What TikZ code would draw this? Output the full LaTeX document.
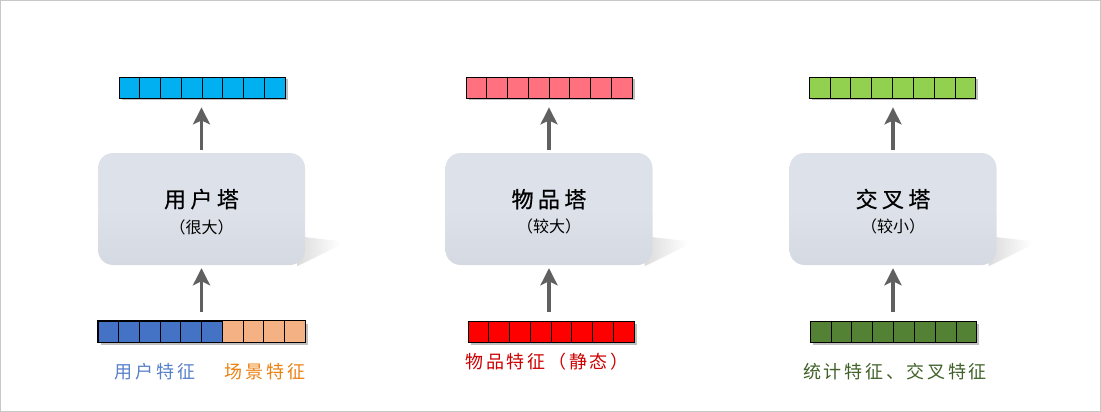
\documentclass[tikz,border=0pt]{standalone}
\usepackage{fontspec}
\setmainfont{Noto Sans CJK SC}
\newfontfamily\spaced[LetterSpace=15]{Noto Sans CJK SC}
\usetikzlibrary{arrows.meta,calc,shadows,fadings,backgrounds}
\tikzset{
  vec/.style={draw=black,line width=0.8pt,minimum width=166pt,minimum height=21pt,inner sep=0pt,
    drop shadow={shadow xshift=2.5pt,shadow yshift=-2.5pt,opacity=.45,fill=black!55}},
  tower/.style={rounded corners=15pt,minimum width=207pt,minimum height=112pt,inner sep=0pt,
    align=center,top color=towertop,bottom color=towerbot,middle color=towertop},
  flow/.style={draw=arrowgray,line width=3.6pt,-{Stealth[length=17pt,width=17pt,inset=4pt]}},
  lbl/.style={font=\fontsize{18}{18}\spaced},
  towershadow/.style={fill=black!40,opacity=.35,path fading=east}
}
\newcommand{\towertext}[2]{\rule{0pt}{24pt}{\fontsize{22}{22}\selectfont\addfontfeature{LetterSpace=20,FakeBold=0.6}#1}\\[9pt]{\fontsize{16}{16}\selectfont #2}}
\begin{document}
\begin{tikzpicture}[x=1pt,y=-1pt]
\definecolor{ucyan}{HTML}{00B0F0}
\definecolor{ublue}{HTML}{4472C4}
\definecolor{uorange}{HTML}{F4B183}
\definecolor{ipink}{HTML}{FF717E}
\definecolor{ired}{HTML}{FF0000}
\definecolor{cgreen}{HTML}{92D050}
\definecolor{cdark}{HTML}{548235}
\definecolor{towertop}{HTML}{DDE2EA}
\definecolor{towerbot}{HTML}{D5DAE2}
\definecolor{arrowgray}{HTML}{606060}
\useasboundingbox (0,0) rectangle (1101,412);
\draw [color=black!22,line width=1pt] (0.5,0.5) rectangle (1100.5,411.5);
% user tower
\node[vec,fill=ucyan] (uout) at (202,87.5) {};
\node[tower] (utower) at (201.5,209) {\towertext{用户塔}{（很大）}};
\node[vec,fill=ublue,minimum width=207pt] (uin) at (201.5,331.5) {};
\fill [uorange] ($(uin.north west)!0.6!(uin.north east)$) rectangle (uin.south east);
\draw [line width=0.8pt] (uin.north west) rectangle (uin.south east);
\node[lbl,text=ublue!90!white] (ulbl) at (155,372) {用户特征};
\node[lbl,text=orange!70!brown] (slbl) at (265,372) {场景特征};
% item tower
\node[vec,fill=ipink] (iout) at (549,87.5) {};
\node[tower] (itower) at (549,209) {\towertext{物品塔}{（较大）}};
\node[vec,fill=ired] (iin) at (551,331.5) {};
\node[lbl,text=red!80!black] (ilbl) at (547,362) {物品特征（静态）};
% cross tower
\node[vec,fill=cgreen] (cout) at (892.5,87.5) {};
\node[tower] (ctower) at (893,209) {\towertext{交叉塔}{（较小）}};
\node[vec,fill=cdark] (cin) at (893.5,331.5) {};
\node[lbl,text=cdark!75!black] (clbl) at (895,372) {统计特征、交叉特征};
% cells
\foreach \n/\k in {uout/8,uin/10,iout/8,iin/8,cout/8,cin/8} {
  \pgfmathtruncatemacro\m{\k-1}
  \foreach \i in {1,...,\m}
    \draw [line width=0.8pt] ($(\n.north west)!\i/\k!(\n.north east)$) -- ($(\n.south west)!\i/\k!(\n.south east)$);
}
% shadows under the towers
\begin{scope}[on background layer]
\foreach \t in {utower,itower,ctower}
  \fill [towershadow] ([xshift=-8pt,yshift=29pt]\t.south east) -- ([xshift=35pt,yshift=24pt]\t.south east)
    -- ([xshift=33pt,yshift=19pt]\t.south east) -- ([xshift=-8pt,yshift=-1pt]\t.south east) -- cycle;
\end{scope}
% arrows
\foreach \t/\o/\a in {utower/uout/uin,itower/iout/iin,ctower/cout/cin} {
  \draw [flow,shorten <=3pt,shorten >=9pt] (\t.north) -- (\t.north |- \o.south);
  \draw [flow,shorten <=9pt,shorten >=3pt] (\t.south |- \a.north) -- (\t.south);
}
\end{tikzpicture}
\end{document}
